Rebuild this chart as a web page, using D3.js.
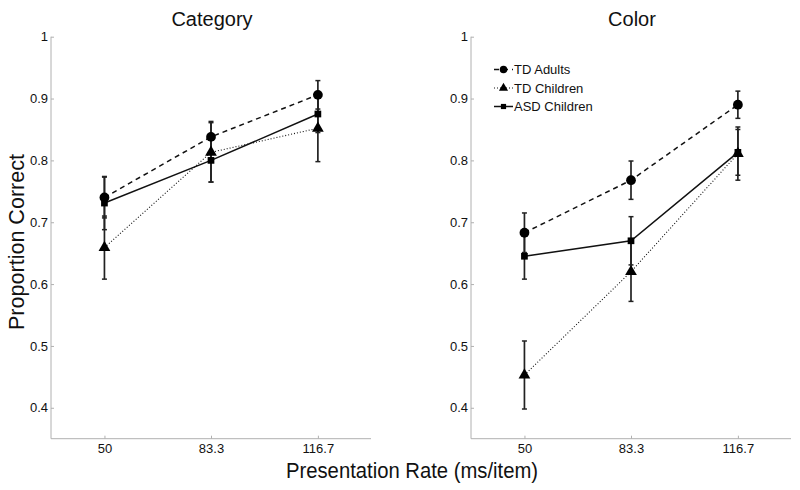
<!DOCTYPE html>
<html><head><meta charset="utf-8">
<script src="https://cdn.jsdelivr.net/npm/d3@7"></script>
<style>body{margin:0;background:#fff}svg{display:block}text{font-family:"Liberation Sans",Arial,sans-serif}</style>
</head><body>
<script>
const rates = [50, 83.3, 116.7];
const rateLabels = ["50", "83.3", "116.7"];
const panels = ["Category", "Color"];
const seriesNames = ["TD Adults", "TD Children", "ASD Children"];
// means per panel / series / rate
const catAdults = [0.740, 0.838, 0.906];
const catTDChildren = [0.659, 0.813, 0.852];
const catASD = [0.731, 0.800, 0.875];
const colAdults = [0.683, 0.768, 0.890];
const colTDChildren = [0.453, 0.620, 0.811];
const colASD = [0.645, 0.670, 0.813];
// error half-widths
const catAdultsErr = [0.033, 0.025, 0.023];
const catTDChildrenErr = [0.051, 0.048, 0.054];
const catASDErr = [0.043, 0.035, 0.030];
const colAdultsErr = [0.032, 0.031, 0.022];
const colTDChildrenErr = [0.055, 0.048, 0.043];
const colASDErr = [0.037, 0.039, 0.037];
const yTicks = [0.4, 0.5, 0.6, 0.7, 0.8, 0.9, 1];

const data = [
  [catAdults, catTDChildren, catASD],
  [colAdults, colTDChildren, colASD]
];
const errs = [
  [catAdultsErr, catTDChildrenErr, catASDErr],
  [colAdultsErr, colTDChildrenErr, colASDErr]
];
const dashes = ["5,4", "1,2", null];
const widths = [1.5, 1.1, 1.5];
const symbols = [d3.symbolCircle, d3.symbolTriangle, d3.symbolSquare];
const symSizes = [75, 60, 45];

const W = 800, H = 490;
const svg = d3.select("body").append("svg").attr("width", W).attr("height", H);
const y = d3.scaleLinear().domain([0.35, 1]).range([438.7, 36.7]);
const panelX = [[51, 371], [471, 791]];
const axisColor = "#b0b0b0";

panels.forEach((title, p) => {
  const x = d3.scaleLinear().domain([33.3, 133.3]).range(panelX[p]);
  const g = svg.append("g");
  const ya = g.append("g").attr("transform", `translate(${panelX[p][0]},0)`)
    .call(d3.axisLeft(y).tickValues(yTicks).tickSizeInner(-3).tickSizeOuter(0).tickPadding(3)
      .tickFormat(d => d === 1 ? "1" : d3.format(".1f")(d)));
  const xa = g.append("g").attr("transform", `translate(0,${y.range()[0]})`)
    .call(d3.axisBottom(x).tickValues(rates).tickSizeInner(-3).tickSizeOuter(0).tickPadding(5)
      .tickFormat((d, i) => rateLabels[i]));
  [ya, xa].forEach(a => {
    a.select(".domain").attr("stroke", axisColor).attr("stroke-width", 1);
    a.selectAll(".tick line").attr("stroke", axisColor);
    a.selectAll(".tick text").attr("fill", "#111").style("font-size", "13px");
  });
  ya.select(".domain").attr("d", `M0,${y.range()[0]}V${y.range()[1]}`);
  xa.select(".domain").attr("d", `M${panelX[p][0]},0H${panelX[p][1]}`);

  g.append("text").attr("x", (panelX[p][0] + panelX[p][1]) / 2 + 1).attr("y", 26)
    .attr("text-anchor", "middle").style("font-size", "20px").attr("fill", "#111").text(title);

  const line = d3.line().x((d, i) => x(rates[i])).y(d => y(d));
  data[p].forEach((vals, s) => {
    vals.forEach((v, i) => {
      const e = errs[p][s][i];
      const cx = x(rates[i]);
      g.append("line").attr("x1", cx).attr("x2", cx).attr("y1", y(v - e)).attr("y2", y(v + e))
        .attr("stroke", "#222").attr("stroke-width", 1.7);
      [v - e, v + e].forEach(t => g.append("line").attr("x1", cx - 2.5).attr("x2", cx + 2.5)
        .attr("y1", y(t)).attr("y2", y(t)).attr("stroke", "#222").attr("stroke-width", 1.5));
    });
  });
  data[p].forEach((vals, s) => {
    g.append("path").attr("d", line(vals)).attr("fill", "none").attr("stroke", "#111")
      .attr("stroke-width", widths[s]).attr("stroke-dasharray", dashes[s]);
    vals.forEach((v, i) => {
      g.append("path").attr("d", d3.symbol().type(symbols[s]).size(symSizes[s])())
        .attr("transform", `translate(${x(rates[i])},${y(v)})`).attr("fill", "#000");
    });
  });

  if (p === 1) {
    const lx = 494, ly = [69.5, 88, 106.5];
    seriesNames.forEach((n, s) => {
      g.append("line").attr("x1", lx).attr("x2", lx + 19).attr("y1", ly[s]).attr("y2", ly[s])
        .attr("stroke", "#111").attr("stroke-width", widths[s]).attr("stroke-dasharray", dashes[s]);
      g.append("path").attr("d", d3.symbol().type(symbols[s]).size(symSizes[s] * 0.6)())
        .attr("transform", `translate(${lx + 9.5},${ly[s]})`).attr("fill", "#000");
      g.append("text").attr("x", lx + 20).attr("y", ly[s]).attr("dy", "0.35em")
        .style("font-size", "13px").attr("fill", "#111").text(n);
    });
  }
});

svg.append("text").attr("transform", "translate(24,242) rotate(-90)").attr("text-anchor", "middle")
  .style("font-size", "22px").attr("fill", "#111")
  .attr("textLength", 176).attr("lengthAdjust", "spacingAndGlyphs").text("Proportion Correct");
svg.append("text").attr("x", 412).attr("y", 478).attr("text-anchor", "middle")
  .style("font-size", "22px").attr("fill", "#111")
  .attr("textLength", 252).attr("lengthAdjust", "spacingAndGlyphs").text("Presentation Rate (ms/item)");
</script>
</body></html>
